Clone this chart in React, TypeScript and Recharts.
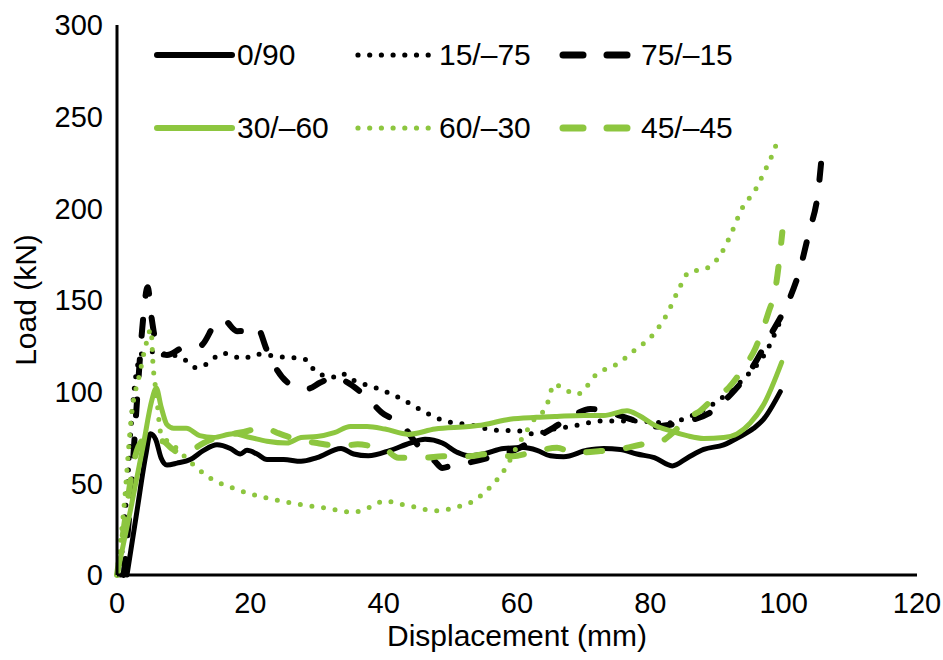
import React from 'react';
import { LineChart, Line, XAxis, YAxis } from 'recharts';

const FONT = '"Liberation Sans", Arial, sans-serif';
const BLACK = '#000000';
const GREEN = '#8dc63f';

const xTicks = [0, 20, 40, 60, 80, 100, 120];
const yTicks = [0, 50, 100, 150, 200, 250, 300];

const s0_90 = [
  { x: 1.5, y: 0 }, { x: 3, y: 35 }, { x: 4.3, y: 65 }, { x: 5, y: 77 }, { x: 5.8, y: 74 },
  { x: 6.6, y: 64 }, { x: 7.5, y: 60 }, { x: 9, y: 61 }, { x: 11, y: 63 }, { x: 13, y: 68 },
  { x: 15, y: 71 }, { x: 17, y: 69 }, { x: 18.5, y: 66 }, { x: 19.5, y: 68 }, { x: 21, y: 66 },
  { x: 22.5, y: 63 }, { x: 25, y: 63 }, { x: 27.6, y: 62 }, { x: 30, y: 64 }, { x: 33.6, y: 69 },
  { x: 35.5, y: 66 }, { x: 37.7, y: 65 }, { x: 41, y: 68 }, { x: 44, y: 72 }, { x: 46.2, y: 74 },
  { x: 48.8, y: 72 }, { x: 51, y: 67 }, { x: 52.8, y: 65 }, { x: 55, y: 66 }, { x: 58, y: 69 },
  { x: 61, y: 69.5 }, { x: 63, y: 68 }, { x: 65, y: 65 }, { x: 67, y: 64.5 }, { x: 70.5, y: 68 },
  { x: 73, y: 69 }, { x: 75.5, y: 68.5 }, { x: 78, y: 66 }, { x: 80.6, y: 64 }, { x: 83.3, y: 59.5 },
  { x: 85.6, y: 64 }, { x: 88, y: 68.5 }, { x: 91, y: 71 }, { x: 93.2, y: 75 }, { x: 95.5, y: 80 },
  { x: 97, y: 85 }, { x: 99.5, y: 100 },
];

const s15_75 = [
  { x: 0.5, y: 0 }, { x: 1, y: 25 }, { x: 1.5, y: 45 }, { x: 2, y: 75 }, { x: 2.8, y: 108 },
  { x: 3.8, y: 121 }, { x: 5, y: 122 }, { x: 6.4, y: 120 }, { x: 8, y: 120 }, { x: 9.9, y: 118 },
  { x: 11.9, y: 113 }, { x: 13.4, y: 115 }, { x: 15.9, y: 121 }, { x: 18.9, y: 118 }, { x: 21, y: 120.5 },
  { x: 24.5, y: 119 }, { x: 28, y: 118 }, { x: 30.1, y: 110 }, { x: 32.6, y: 108 }, { x: 33.6, y: 110 },
  { x: 35.6, y: 106 }, { x: 39.2, y: 101.6 }, { x: 42.7, y: 96 }, { x: 45.8, y: 89.6 }, { x: 49.2, y: 84 },
  { x: 52.8, y: 82 }, { x: 56.8, y: 79 }, { x: 60.4, y: 78.6 }, { x: 62.4, y: 77 }, { x: 65.5, y: 79.6 },
  { x: 68, y: 81 }, { x: 73, y: 84 }, { x: 78, y: 84 }, { x: 82.6, y: 83 }, { x: 85.6, y: 86 },
  { x: 89.7, y: 94 }, { x: 93.7, y: 106 }, { x: 97.7, y: 124 }, { x: 99.3, y: 137 },
];

const s75_15 = [
  { x: 1, y: 0 }, { x: 2, y: 40 }, { x: 3, y: 95 }, { x: 3.8, y: 135 }, { x: 4.6, y: 157 },
  { x: 5.2, y: 140 }, { x: 6, y: 125 }, { x: 7.5, y: 120 }, { x: 9.9, y: 124 }, { x: 11, y: 124.5 },
  { x: 12.5, y: 125 }, { x: 15, y: 138 }, { x: 16, y: 139 }, { x: 18, y: 133 }, { x: 20, y: 133.5 },
  { x: 21, y: 135 }, { x: 22.5, y: 122.5 }, { x: 23.5, y: 115 }, { x: 26.5, y: 103 }, { x: 28.6, y: 101.6 },
  { x: 30.5, y: 105 }, { x: 32.6, y: 108 }, { x: 34.1, y: 106 }, { x: 37.7, y: 96 }, { x: 39.7, y: 88.6 },
  { x: 43.2, y: 80.4 }, { x: 44.2, y: 75 }, { x: 47.7, y: 62 }, { x: 48.8, y: 58.4 }, { x: 50.5, y: 60 },
  { x: 52.3, y: 61 }, { x: 55.8, y: 64 }, { x: 60.4, y: 69.4 }, { x: 62.9, y: 75 }, { x: 65.5, y: 80.4 },
  { x: 68, y: 86 }, { x: 71, y: 90.6 }, { x: 73, y: 89.6 }, { x: 77, y: 85 }, { x: 80.6, y: 81 },
  { x: 83, y: 82 }, { x: 85.6, y: 84 }, { x: 88.7, y: 88 }, { x: 92.2, y: 99 }, { x: 94.7, y: 110 },
  { x: 98.2, y: 132 }, { x: 100.8, y: 150 }, { x: 102.3, y: 165 }, { x: 103.8, y: 187 }, { x: 105.2, y: 210 },
  { x: 105.8, y: 232 },
];

const s30_60 = [
  { x: 0, y: 0 }, { x: 2, y: 35 }, { x: 4, y: 72 }, { x: 5.2, y: 95 }, { x: 5.9, y: 102 },
  { x: 6.6, y: 92 }, { x: 7.5, y: 82 }, { x: 8.5, y: 80 }, { x: 10.4, y: 80 }, { x: 12.4, y: 76 },
  { x: 14.5, y: 75 }, { x: 17.4, y: 77 }, { x: 20, y: 75 }, { x: 22.5, y: 73 }, { x: 25.5, y: 72 },
  { x: 27.6, y: 75 }, { x: 30, y: 75.5 }, { x: 32.6, y: 77.6 }, { x: 35, y: 81 }, { x: 37.5, y: 81 },
  { x: 40.2, y: 79.6 }, { x: 43.7, y: 76.7 }, { x: 47.7, y: 79.6 }, { x: 52.8, y: 81 }, { x: 55, y: 82 },
  { x: 58.9, y: 85 }, { x: 62.9, y: 86 }, { x: 66, y: 86.5 }, { x: 70, y: 87 }, { x: 73, y: 87 },
  { x: 76.5, y: 89.6 }, { x: 78.3, y: 87 }, { x: 80.5, y: 82 }, { x: 83, y: 78.6 }, { x: 85.5, y: 76 },
  { x: 88, y: 74.5 }, { x: 91, y: 75 }, { x: 93, y: 77 }, { x: 95, y: 83 }, { x: 97, y: 93 },
  { x: 99.7, y: 116 },
];

const s60_30 = [
  { x: 0, y: 0 }, { x: 1, y: 35 }, { x: 2.3, y: 91 }, { x: 3.3, y: 108 }, { x: 4.3, y: 125 },
  { x: 5.1, y: 134 }, { x: 5.4, y: 115 }, { x: 5.9, y: 99 }, { x: 6.6, y: 77 }, { x: 8.4, y: 71 },
  { x: 10.9, y: 62 }, { x: 13.9, y: 53 }, { x: 17.4, y: 47.4 }, { x: 22.5, y: 42 }, { x: 27.6, y: 38.4 },
  { x: 31.6, y: 36.4 }, { x: 35.4, y: 34.2 }, { x: 38, y: 37 }, { x: 40.2, y: 40.5 }, { x: 42, y: 39 },
  { x: 44.2, y: 37.4 }, { x: 47.7, y: 35 }, { x: 51.3, y: 37.4 }, { x: 53.3, y: 40 }, { x: 54.8, y: 44 },
  { x: 57.4, y: 53.8 }, { x: 58.4, y: 59 }, { x: 59.9, y: 69.4 }, { x: 61.2, y: 77 }, { x: 62.4, y: 84 },
  { x: 64.4, y: 92 }, { x: 65.6, y: 104 }, { x: 67, y: 101.6 }, { x: 69, y: 98.5 }, { x: 70.5, y: 103 },
  { x: 71.5, y: 108 }, { x: 72.8, y: 111.5 }, { x: 74.5, y: 114 }, { x: 77.6, y: 122.5 }, { x: 80.6, y: 132 },
  { x: 82.6, y: 143 }, { x: 84.1, y: 154.6 }, { x: 85.9, y: 165.5 }, { x: 87.7, y: 166.5 }, { x: 89.2, y: 169 },
  { x: 90.7, y: 175.8 }, { x: 92.2, y: 186.8 }, { x: 93.7, y: 199.5 }, { x: 95.8, y: 210.4 }, { x: 97.3, y: 221.4 },
  { x: 98.8, y: 234 }, { x: 99.3, y: 239.5 },
];

const s45_45 = [
  { x: 0, y: 0 }, { x: 1.2, y: 30 }, { x: 2.2, y: 55 }, { x: 3.2, y: 70 }, { x: 4.2, y: 74 },
  { x: 5.9, y: 71.4 }, { x: 6.8, y: 73 }, { x: 8.2, y: 69 }, { x: 9.4, y: 66.6 }, { x: 10.9, y: 67.6 },
  { x: 13, y: 72 }, { x: 16, y: 76 }, { x: 19, y: 78 }, { x: 22, y: 80.4 }, { x: 24, y: 77.6 },
  { x: 27, y: 74 }, { x: 30, y: 72 }, { x: 33.6, y: 70.3 }, { x: 36.1, y: 71.3 }, { x: 38.5, y: 70 },
  { x: 40.2, y: 68.7 }, { x: 42.2, y: 64 }, { x: 46.2, y: 64 }, { x: 48.8, y: 64.8 }, { x: 52.8, y: 64.8 },
  { x: 55.3, y: 65.9 }, { x: 59.4, y: 64.8 }, { x: 61.9, y: 66.6 }, { x: 66, y: 69.4 }, { x: 68.5, y: 66.6 },
  { x: 72.5, y: 67.6 }, { x: 76, y: 69 }, { x: 79, y: 71.4 }, { x: 81, y: 72 }, { x: 83.5, y: 78 },
  { x: 85.6, y: 86 }, { x: 87.1, y: 88.6 }, { x: 89.7, y: 97 }, { x: 91.7, y: 102 }, { x: 93.7, y: 111.5 },
  { x: 95.8, y: 124 }, { x: 97.7, y: 143 }, { x: 98.8, y: 157 }, { x: 99.8, y: 187 },
];

type Style = 'solid' | 'dotted' | 'dashed';
const series: { name: string; data: { x: number; y: number }[]; color: string; style: Style }[] = [
  { name: '0/90', data: s0_90, color: BLACK, style: 'solid' },
  { name: '15/–75', data: s15_75, color: BLACK, style: 'dotted' },
  { name: '75/–15', data: s75_15, color: BLACK, style: 'dashed' },
  { name: '30/–60', data: s30_60, color: GREEN, style: 'solid' },
  { name: '60/–30', data: s60_30, color: GREEN, style: 'dotted' },
  { name: '45/–45', data: s45_45, color: GREEN, style: 'dashed' },
];

const lineProps = (style: Style) => {
  if (style === 'dotted') return { strokeWidth: 5, strokeDasharray: '0 11.7', strokeLinecap: 'round' as const };
  if (style === 'dashed') return { strokeWidth: 6, strokeDasharray: '16 24', strokeLinecap: 'round' as const };
  return { strokeWidth: 5, strokeLinecap: 'round' as const };
};

const Swatch = ({ color, style }: { color: string; style: Style }) => (
  <svg width={84} height={20} style={{ display: 'block', flex: '0 0 auto' }}>
    {style === 'solid' && (
      <line x1={4} y1={10} x2={79} y2={10} stroke={color} strokeWidth={6} strokeLinecap="round" />
    )}
    {style === 'dotted' && (
      <line x1={3} y1={10} x2={73.5} y2={10} stroke={color} strokeWidth={5.2} strokeDasharray="0 11.7" strokeLinecap="round" />
    )}
    {style === 'dashed' && (
      <g stroke={color} strokeWidth={7} strokeLinecap="round">
        <line x1={6} y1={10} x2={26} y2={10} />
        <line x1={50} y1={10} x2={70} y2={10} />
      </g>
    )}
  </svg>
);

const XLabel = (props: any) => {
  const vb = props.viewBox || {};
  return (
    <text x={vb.x + vb.width / 2} y={vb.y + vb.height - 14} textAnchor="middle" fill="#000" fontSize={30} fontFamily={FONT}>
      Displacement (mm)
    </text>
  );
};

const YLabel = (props: any) => {
  const vb = props.viewBox || {};
  const cx = 25;
  const cy = vb.y + vb.height / 2;
  return (
    <text x={cx} y={cy} transform={`rotate(-90, ${cx}, ${cy})`} textAnchor="middle" dominantBaseline="central" fill="#000" fontSize={30} fontFamily={FONT}>
      Load (kN)
    </text>
  );
};

const rows = [series.slice(0, 3), series.slice(3, 6)];

export default function App() {
  return (
    <div style={{ position: 'absolute', left: 0, top: 0, width: 943, height: 660, background: '#fff' }}>
      <LineChart width={943} height={660} margin={{ top: 25, right: 26, bottom: 0, left: 0 }}>
        <XAxis
          type="number"
          dataKey="x"
          domain={[0, 120]}
          ticks={xTicks}
          tickLine={false}
          tickMargin={11}
          height={85}
          axisLine={{ stroke: '#000', strokeWidth: 3 }}
          tick={{ fill: '#000', fontSize: 29, fontFamily: FONT }}
          label={<XLabel />}
        />
        <YAxis
          type="number"
          domain={[0, 300]}
          ticks={yTicks}
          width={117}
          tickLine={false}
          tickMargin={8}
          axisLine={{ stroke: '#000', strokeWidth: 3 }}
          tick={{ fill: '#000', fontSize: 29, fontFamily: FONT }}
          label={<YLabel />}
        />
        {series.map((s) => (
          <Line
            key={s.name}
            name={s.name}
            data={s.data}
            dataKey="y"
            type="monotone"
            stroke={s.color}
            strokeLinejoin="round"
            dot={false}
            activeDot={false}
            isAnimationActive={false}
            {...lineProps(s.style)}
          />
        ))}
      </LineChart>
      <div style={{ position: 'absolute', left: 153, top: 18.5, fontFamily: FONT, color: '#000' }}>
        {rows.map((row, i) => (
          <div key={i} style={{ height: 73, display: 'flex', alignItems: 'center' }}>
            {row.map((s) => (
              <div key={s.name} style={{ width: 202, display: 'flex', alignItems: 'center' }}>
                <Swatch color={s.color} style={s.style} />
                <span style={{ fontSize: 30, lineHeight: 1, whiteSpace: 'nowrap' }}>{s.name}</span>
              </div>
            ))}
          </div>
        ))}
      </div>
    </div>
  );
}
